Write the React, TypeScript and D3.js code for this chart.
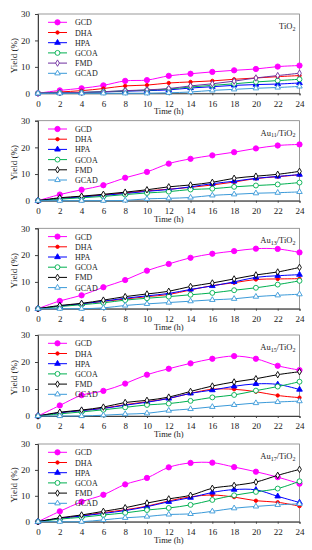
import React, { useEffect, useRef } from "react";
import * as d3 from "d3";

const hours = [0, 2, 4, 6, 8, 10, 12, 14, 16, 18, 20, 22, 24];
const seriesNames = ["GCD", "DHA", "HPA", "GCOA", "FMD", "GCAD"];
const yTicks = [0, 10, 20, 30];

// yield (%) per catalyst, rows follow seriesNames
const tio2 = [
  [0, 1.1, 1.9, 3.0, 4.7, 5.0, 6.6, 7.4, 8.1, 8.7, 9.2, 10.1, 10.5],
  [0, 0.5, 1.0, 1.8, 2.8, 3.1, 3.9, 4.3, 4.7, 5.3, 5.8, 6.3, 6.7],
  [0, 0.2, 0.3, 0.5, 0.8, 1.0, 1.3, 2.0, 2.5, 3.0, 3.3, 3.5, 3.9],
  [0, 0.2, 0.3, 0.6, 0.9, 1.2, 1.6, 2.4, 3.0, 3.6, 4.3, 4.8, 5.3],
  [0, 0.2, 0.3, 0.6, 1.0, 1.3, 1.8, 2.8, 3.6, 4.6, 5.8, 6.7, 7.6],
  [0, 0, 0, 0, 0, 0, 0.2, 0.5, 1.1, 1.5, 1.9, 2.2, 2.6],
];
const au11 = [
  [0, 2.3, 4.1, 5.8, 8.6, 10.8, 13.9, 15.7, 17.0, 18.2, 19.6, 20.7, 21.1],
  [0, 0.9, 1.5, 2.2, 2.9, 3.7, 4.3, 5.0, 5.9, 7.0, 8.3, 9.0, 9.7],
  [0, 0.8, 1.4, 2.0, 2.7, 3.5, 4.2, 5.2, 6.4, 7.3, 8.4, 9.1, 9.8],
  [0, 0.6, 1.1, 1.6, 2.3, 2.9, 3.4, 4.2, 4.5, 5.2, 5.7, 6.1, 6.8],
  [0, 1.1, 1.7, 2.4, 3.2, 4.1, 5.2, 5.9, 6.9, 8.4, 9.2, 9.9, 11.0],
  [0, 0, 0, 0, 0.1, 0.7, 0.9, 1.2, 2.0, 2.4, 2.8, 3.0, 3.3],
];
const au13 = [
  [0, 2.9, 5.0, 8.0, 10.7, 14.2, 16.7, 19.0, 20.5, 21.5, 22.4, 22.3, 21.0],
  [0, 1.0, 1.8, 2.7, 3.6, 4.5, 5.3, 7.0, 8.6, 9.7, 10.9, 11.1, 11.2],
  [0, 1.0, 1.8, 2.8, 3.9, 4.8, 5.7, 7.2, 8.5, 10.0, 11.7, 12.3, 12.7],
  [0, 0.8, 1.5, 2.2, 3.2, 3.9, 4.5, 5.2, 5.9, 6.9, 7.8, 9.0, 10.4],
  [0, 1.2, 2.0, 3.2, 4.5, 5.5, 6.5, 8.3, 9.6, 11.1, 12.6, 13.7, 15.4],
  [0, 0, 0, 0.3, 1.2, 1.8, 2.3, 2.8, 3.3, 3.7, 4.5, 5.0, 5.4],
];
const au15 = [
  [0, 3.9, 7.7, 9.3, 12.0, 15.3, 17.5, 19.5, 21.2, 22.2, 21.2, 18.6, 17.0],
  [0, 1.2, 2.0, 2.9, 4.2, 5.3, 6.5, 8.4, 9.9, 9.9, 9.0, 7.6, 6.8],
  [0, 1.2, 2.0, 2.8, 4.0, 5.1, 6.5, 8.4, 9.6, 11.0, 11.9, 11.7, 9.8],
  [0, 0.8, 1.5, 2.3, 3.2, 4.1, 4.6, 5.6, 6.9, 7.8, 9.4, 10.9, 12.7],
  [0, 1.4, 2.2, 3.3, 5.0, 5.8, 7.0, 9.1, 11.1, 12.6, 13.8, 15.3, 16.4],
  [0, 0, 0, 0.3, 0.7, 1.0, 2.0, 2.6, 3.4, 4.1, 4.8, 5.2, 5.5],
];
const au17 = [
  [0, 4.0, 7.7, 10.4, 14.4, 16.9, 21.0, 22.7, 22.8, 21.1, 19.3, 17.2, 14.7],
  [0, 1.3, 2.3, 3.5, 4.6, 6.0, 8.0, 9.6, 10.3, 9.5, 8.1, 7.5, 6.0],
  [0, 1.3, 2.2, 3.2, 4.3, 5.8, 7.7, 9.3, 11.3, 12.4, 12.3, 9.8, 7.4],
  [0, 1.0, 1.7, 2.6, 3.4, 4.5, 5.3, 6.5, 8.4, 10.2, 11.5, 12.8, 15.6],
  [0, 1.5, 2.6, 4.0, 5.4, 7.2, 8.8, 10.2, 12.9, 14.0, 15.3, 17.9, 20.2],
  [0, 0, 0, 0.7, 1.5, 2.0, 2.8, 3.0, 4.0, 5.2, 5.9, 6.5, 6.9],
];

const panelData = [tio2, au11, au13, au15, au17];
const auSizes = ["", "11", "13", "15", "17"];

// layout
const W = 312;
const H = 550;
const left = 38;
const right = 299.5;
const tops = [14, 120.7, 228.3, 335, 444];
const bottoms = [93.3, 200.7, 308.7, 416, 521.7];

const colors = ["#ff00ff", "#ff0000", "#0000ff", "#00b050", "#000000", "#3b9ad9"];
const symbols = [
  { type: d3.symbolCircle, size: 22, fill: true },
  { type: d3.symbolCircle, size: 9, fill: true },
  { type: d3.symbolTriangle, size: 14, fill: true },
  { type: d3.symbolCircle, size: 19, fill: false },
  { type: d3.symbolDiamond, size: 12, fill: false },
  { type: d3.symbolTriangle, size: 13, fill: false },
];

const font = "'Liberation Serif', 'Times New Roman', serif";

const App = () => {
  const svgRef = useRef(null);

  useEffect(() => {
    const svg = d3.select(svgRef.current);
    svg.selectAll("*").remove();

    const x = d3.scaleLinear().domain([0, 24]).range([left, right]);

    panelData.forEach((rows, p) => {
      const top = tops[p];
      const bottom = bottoms[p];
      const y = d3.scaleLinear().domain([0, 30]).range([bottom, top]);
      const g = svg.append("g");

      // frame
      g.append("rect")
        .attr("x", left)
        .attr("y", top)
        .attr("width", right - left)
        .attr("height", bottom - top)
        .attr("fill", "none")
        .attr("stroke", "#808080")
        .attr("stroke-width", 0.8);

      // y axis
      const yAxis = g
        .append("g")
        .attr("transform", `translate(${left},0)`)
        .call(d3.axisLeft(y).tickValues(yTicks).tickSize(3).tickPadding(5));
      yAxis.select(".domain").attr("stroke", "#404040");
      yAxis.selectAll("line").attr("stroke", "#404040");
      yAxis.selectAll("text").attr("font-family", font).attr("font-size", 9).attr("fill", "#222");

      // x axis
      const xAxis = g
        .append("g")
        .attr("transform", `translate(0,${bottom})`)
        .call(d3.axisBottom(x).tickValues(hours).tickSize(2).tickPadding(5));
      xAxis.select(".domain").attr("stroke", "#404040");
      xAxis.selectAll("line").attr("stroke", "#404040");
      xAxis.selectAll("text").attr("font-family", font).attr("font-size", 9).attr("fill", "#222");

      g.append("text")
        .attr("x", (left + right) / 2)
        .attr("y", bottom + 21)
        .attr("text-anchor", "middle")
        .attr("font-family", font)
        .attr("font-size", 8.5)
        .attr("fill", "#222")
        .text("Time (h)");

      g.append("text")
        .attr("transform", `translate(17,${(top + bottom) / 2 + 2}) rotate(-90)`)
        .attr("text-anchor", "middle")
        .attr("font-family", font)
        .attr("font-size", 9)
        .attr("fill", "#222")
        .text("Yield (%)");

      // catalyst label
      const lab = g
        .append("text")
        .attr("x", right - 4)
        .attr("y", top + 15)
        .attr("text-anchor", "end")
        .attr("font-family", font)
        .attr("font-size", 8.5)
        .attr("fill", "#222");
      if (auSizes[p]) {
        lab.append("tspan").text("Au");
        lab.append("tspan").attr("font-size", 6).attr("dy", 1.5).text(auSizes[p]);
        lab.append("tspan").attr("dy", -1.5).text("/TiO");
      } else {
        lab.append("tspan").text("TiO");
      }
      lab.append("tspan").attr("font-size", 6).attr("dy", 1.5).text("2");

      const line = d3
        .line<number>()
        .x((_, i) => x(hours[i]))
        .y((d) => y(d))
        .curve(d3.curveCatmullRom.alpha(0.5));

      const colorOf = (s: number) => (s === 4 && p === 0 ? "#7030a0" : colors[s]);

      rows.forEach((vals, s) => {
        const c = colorOf(s);
        g.append("path")
          .attr("d", line(vals))
          .attr("fill", "none")
          .attr("stroke", c)
          .attr("stroke-width", 1);
        const sym = d3.symbol().type(symbols[s].type).size(symbols[s].size);
        g.selectAll(null)
          .data(vals)
          .join("path")
          .attr("transform", (d, i) => `translate(${x(hours[i])},${y(d)})`)
          .attr("d", sym())
          .attr("fill", symbols[s].fill ? c : "#fff")
          .attr("stroke", c)
          .attr("stroke-width", 0.9);
      });

      // legend
      seriesNames.forEach((name, s) => {
        const c = colorOf(s);
        const ly = top + 8.3 + s * 10.2;
        g.append("line")
          .attr("x1", 48)
          .attr("x2", 67)
          .attr("y1", ly)
          .attr("y2", ly)
          .attr("stroke", c)
          .attr("stroke-width", 1);
        g.append("path")
          .attr("transform", `translate(57.5,${ly})`)
          .attr("d", d3.symbol().type(symbols[s].type).size(symbols[s].size)())
          .attr("fill", symbols[s].fill ? c : "#fff")
          .attr("stroke", c)
          .attr("stroke-width", 0.9);
        g.append("text")
          .attr("x", 75)
          .attr("y", ly + 3)
          .attr("font-family", font)
          .attr("font-size", 8)
          .attr("fill", "#222")
          .text(name);
      });
    });
  }, []);

  return (
    <svg
      ref={svgRef}
      width={W}
      height={H}
      style={{ position: "absolute", left: 0, top: 0, background: "#fff" }}
    />
  );
};

export default App;
